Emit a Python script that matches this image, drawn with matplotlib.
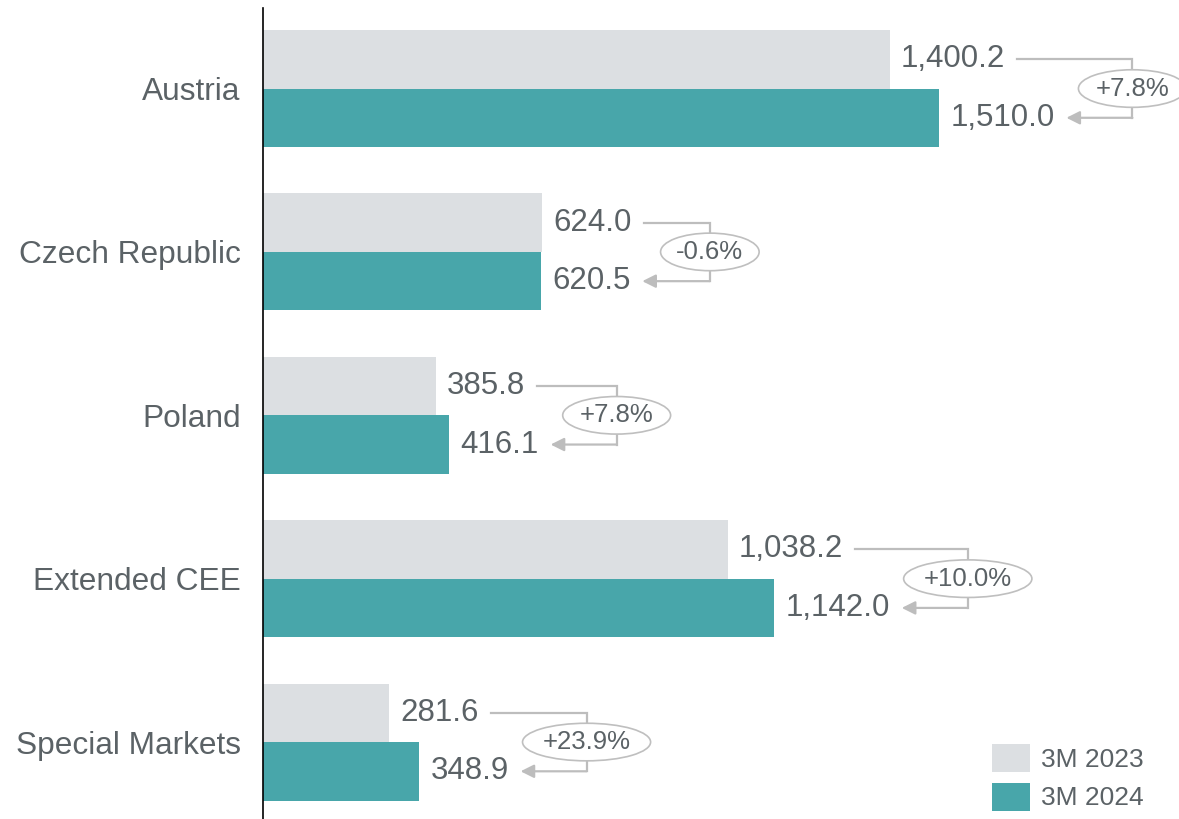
import matplotlib
matplotlib.use("Agg")
import matplotlib.pyplot as plt
import numpy as np

categories = ["Austria", "Czech Republic", "Poland", "Extended CEE", "Special Markets"]
vals_2023 = [1400.2, 624.0, 385.8, 1038.2, 281.6]
vals_2024 = [1510.0, 620.5, 416.1, 1142.0, 348.9]
changes = ["+7.8%", "-0.6%", "+7.8%", "+10.0%", "+23.9%"]
series_labels = ["3M 2023", "3M 2024"]

c23 = "#dcdfe2"
c24 = "#48a6aa"
txt = "#5b6266"
conn = "#bdbdbd"

plt.rcParams['font.family'] = ['Liberation Sans', 'DejaVu Sans']

fig = plt.figure(figsize=(11.79, 8.19), dpi=100)
ax = fig.add_axes([263/1179, 0, 1 - 263/1179, 1 - 8/819])

y = np.arange(len(categories))
h = 0.358
ax.barh(y - h/2, vals_2023, height=h, color=c23, label=series_labels[0])
ax.barh(y + h/2, vals_2024, height=h, color=c24, label=series_labels[1])

ax.set_xlim(0, 2046)
ax.set_ylim(4.471, -0.493)
ax.set_yticks(y)
ax.set_yticklabels(categories, fontsize=22.8, color=txt)
ax.tick_params(axis='y', length=0, pad=16)
ax.set_xticks([])
for s in ["top", "right", "bottom"]:
    ax.spines[s].set_visible(False)
ax.spines["left"].set_linewidth(1.2)

lab23 = []
lab24 = []
for i in range(len(categories)):
    lab23.append(ax.annotate(f"{vals_2023[i]:,.1f}", (vals_2023[i], y[i] - h/2), xytext=(8, 0),
                             textcoords="offset points", va="center", ha="left", fontsize=22.5, color=txt))
    lab24.append(ax.annotate(f"{vals_2024[i]:,.1f}", (vals_2024[i], y[i] + h/2), xytext=(8, 0),
                             textcoords="offset points", va="center", ha="left", fontsize=22.5, color=txt))

fig.canvas.draw()
r = fig.canvas.get_renderer()
inv = ax.transData.inverted()
px = 2046 / (1179 - 263)  # data units per pixel

for i in range(len(categories)):
    e23 = inv.transform(lab23[i].get_window_extent(r))[1][0]
    e24 = inv.transform(lab24[i].get_window_extent(r))[1][0]
    start = e23 + 12 * px
    tip = e24 + 12 * px
    vx = max(e23, e24) + 78 * px
    ya, yb = y[i] - h/2, y[i] + h/2
    ax.plot([start, vx, vx], [ya, ya, yb], color=conn, lw=1.6, clip_on=False, solid_joinstyle="miter")
    ax.annotate("", xy=(tip, yb), xytext=(vx, yb),
                arrowprops=dict(arrowstyle="-|>", color=conn, lw=1.6, mutation_scale=20,
                                shrinkA=0, shrinkB=0), annotation_clip=False)
    ax.text(vx, y[i], changes[i], ha="center", va="center", fontsize=18.5, color=txt,
            bbox=dict(boxstyle="ellipse,pad=0.05", fc="white", ec="#bfbfbf", lw=1.2), clip_on=False)

leg = ax.legend(loc="lower right", bbox_to_anchor=((1179 - 17) / 1179, -10 / 819),
                bbox_transform=fig.transFigure,
                frameon=False, fontsize=19, handlelength=1.45, handleheight=1.25,
                handletextpad=0.4, labelspacing=0.4, borderaxespad=0.3)
for t in leg.get_texts():
    t.set_color(txt)

plt.savefig("out.png", dpi=100)
